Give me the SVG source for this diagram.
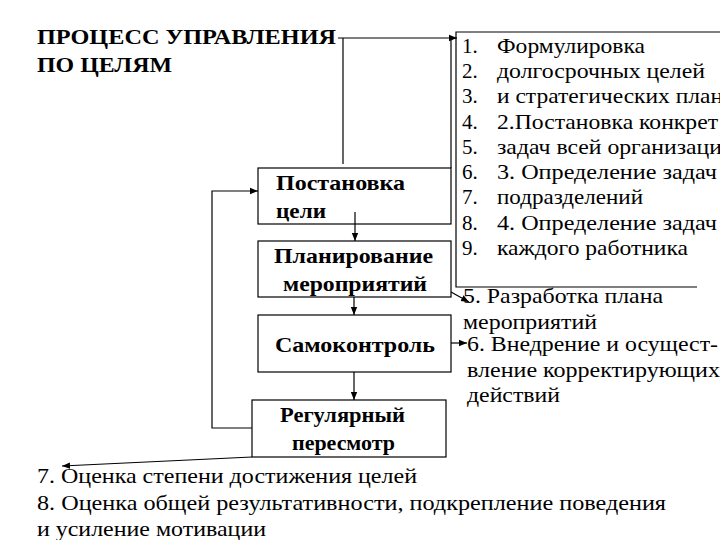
<svg xmlns="http://www.w3.org/2000/svg" width="720" height="540" viewBox="0 0 720 540">
<style>
text{font-family:"Liberation Serif",serif;fill:#000}
.t{font-weight:bold;font-size:21px}
.b{font-weight:bold;font-size:21px}
.r{font-size:21px}
.box{fill:#fff;stroke:#000;stroke-width:1.2}
.ln{fill:none;stroke:#000;stroke-width:1.2}
</style>
<defs>
<marker id="ah" viewBox="0 0 10 10" refX="10" refY="5" markerWidth="8" markerHeight="8" markerUnits="userSpaceOnUse" orient="auto">
<path d="M0,1 L10,5 L0,9 Z" fill="#000"/>
</marker>
</defs>
<rect width="720" height="540" fill="#fff"/>
<g id="title">
<text class="t" x="37" y="44" textLength="299" lengthAdjust="spacingAndGlyphs">ПРОЦЕСС УПРАВЛЕНИЯ</text>
<text class="t" x="37" y="72" textLength="135" lengthAdjust="spacingAndGlyphs">ПО ЦЕЛЯМ</text>
</g>
<g id="list">
<path class="ln" d="M720,32 H456 V287 H697"/>
<g class="r">
<text x="462" y="53">1.</text><text x="497" y="53" textLength="148" lengthAdjust="spacingAndGlyphs">Формулировка</text>
<text x="462" y="78">2.</text><text x="497" y="78" textLength="208" lengthAdjust="spacingAndGlyphs">долгосрочных целей</text>
<text x="462" y="103">3.</text><text x="497" y="103" textLength="226" lengthAdjust="spacingAndGlyphs">и стратегических план</text>
<text x="462" y="129">4.</text><text x="497" y="129" textLength="221" lengthAdjust="spacingAndGlyphs">2.Постановка конкрет</text>
<text x="462" y="154">5.</text><text x="497" y="154" textLength="225" lengthAdjust="spacingAndGlyphs">задач всей организаци</text>
<text x="462" y="179">6.</text><text x="497" y="179" textLength="220" lengthAdjust="spacingAndGlyphs">3. Определение задач</text>
<text x="462" y="204">7.</text><text x="497" y="204" textLength="146" lengthAdjust="spacingAndGlyphs">подразделений</text>
<text x="462" y="230">8.</text><text x="497" y="230" textLength="220" lengthAdjust="spacingAndGlyphs">4. Определение задач</text>
<text x="462" y="255">9.</text><text x="497" y="255" textLength="191" lengthAdjust="spacingAndGlyphs">каждого работника</text>
</g>
</g>
<g id="n1">
<rect class="box" x="258" y="168" width="193" height="56"/>
<text class="b" x="276" y="190" textLength="129" lengthAdjust="spacingAndGlyphs">Постановка</text>
<text class="b" x="276" y="218" textLength="50" lengthAdjust="spacingAndGlyphs">цели</text>
</g>
<g id="n2">
<rect class="box" x="258" y="241" width="193" height="56"/>
<text class="b" x="274" y="263" textLength="159" lengthAdjust="spacingAndGlyphs">Планирование</text>
<text class="b" x="283" y="291" textLength="144" lengthAdjust="spacingAndGlyphs">мероприятий</text>
</g>
<g id="n3">
<rect class="box" x="258" y="315" width="193" height="57"/>
<text class="b" x="275" y="352" textLength="160" lengthAdjust="spacingAndGlyphs">Самоконтроль</text>
</g>
<g id="n4">
<rect class="box" x="252" y="400" width="194" height="57"/>
<text class="b" x="280" y="422" textLength="125" lengthAdjust="spacingAndGlyphs">Регулярный</text>
<text class="b" x="292" y="450" textLength="103" lengthAdjust="spacingAndGlyphs">пересмотр</text>
</g>
<g id="notes" class="r">
<text x="463" y="303" textLength="200" lengthAdjust="spacingAndGlyphs">5. Разработка плана</text>
<text x="463" y="329" textLength="134" lengthAdjust="spacingAndGlyphs">мероприятий</text>
<text x="467" y="351" textLength="251" lengthAdjust="spacingAndGlyphs">6. Внедрение и осущест-</text>
<text x="467" y="377" textLength="253" lengthAdjust="spacingAndGlyphs">вление корректирующих</text>
<text x="467" y="402" textLength="93" lengthAdjust="spacingAndGlyphs">действий</text>
<text x="37" y="483" textLength="380" lengthAdjust="spacingAndGlyphs">7. Оценка степени достижения целей</text>
<text x="37" y="510" textLength="629" lengthAdjust="spacingAndGlyphs">8. Оценка общей результативности, подкрепление поведения</text>
<text x="37" y="536" textLength="229" lengthAdjust="spacingAndGlyphs">и усиление мотивации</text>
</g>
<g id="connectors">
<path class="ln" d="M338,38 H457" marker-end="url(#ah)"/>
<path class="ln" d="M343,38 V164"/>
<path class="ln" d="M451,38 V168"/>
<path class="ln" d="M355,212 V241" marker-end="url(#ah)"/>
<path class="ln" d="M354,297 V315" marker-end="url(#ah)"/>
<path class="ln" d="M354,372 V400" marker-end="url(#ah)"/>
<path class="ln" d="M252,428 H212 V191 H258" marker-end="url(#ah)"/>
<path class="ln" d="M451,292 L469,302" marker-end="url(#ah)"/>
<path class="ln" d="M451,343 H467" marker-end="url(#ah)"/>
<path class="ln" d="M252,457 L62,466" marker-end="url(#ah)"/>
</g>
</svg>
